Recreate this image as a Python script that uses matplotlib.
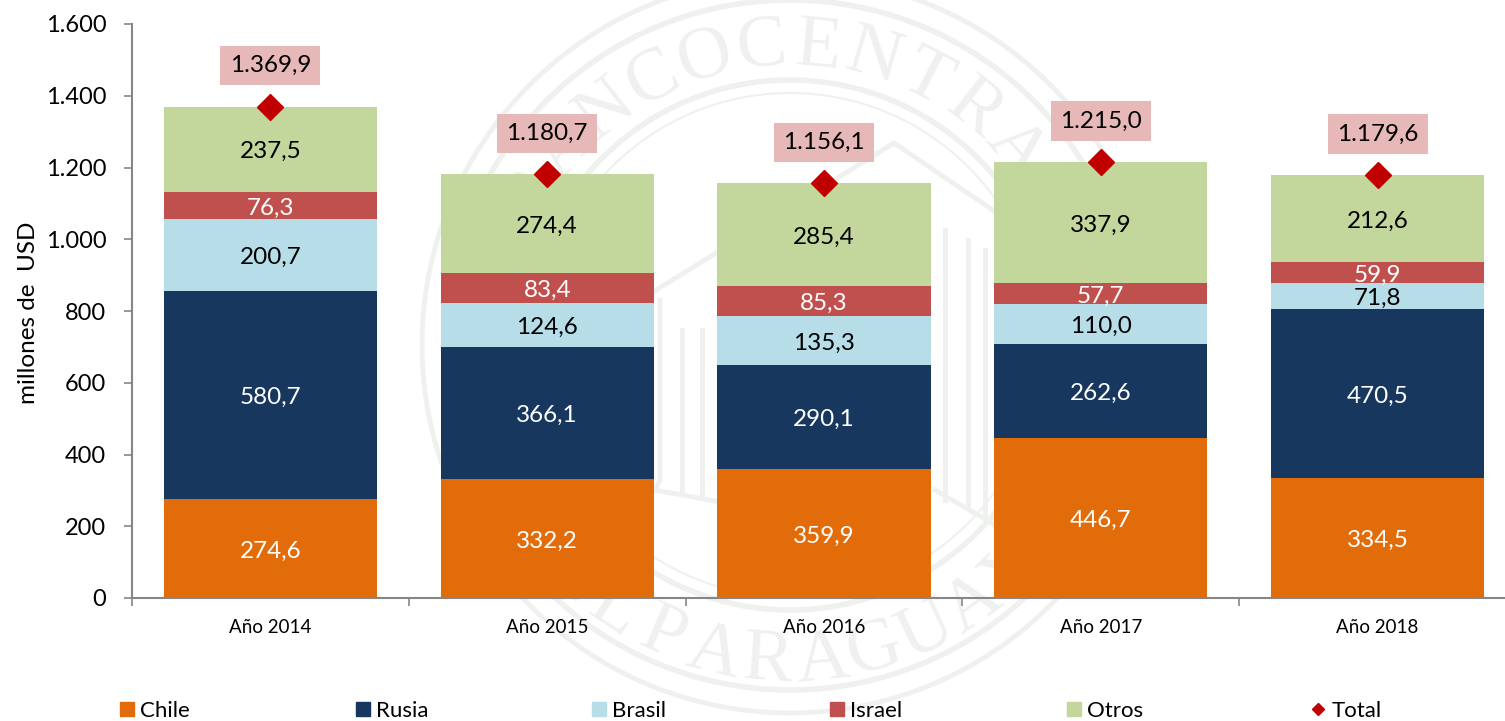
"""Exportaciones por destino, 2014-2018: stacked bars with total markers."""
import numpy as np
import matplotlib
matplotlib.use("Agg")
import matplotlib.pyplot as plt
from matplotlib.lines import Line2D
from matplotlib.patches import Circle

W, H = 1505, 721

YEARS  = ["Año 2014", "Año 2015", "Año 2016", "Año 2017", "Año 2018"]
CHILE  = [274.6, 332.2, 359.9, 446.7, 334.5]
RUSIA  = [580.7, 366.1, 290.1, 262.6, 470.5]
BRASIL = [200.7, 124.6, 135.3, 110.0, 71.8]
ISRAEL = [76.3, 83.4, 85.3, 57.7, 59.9]
OTROS  = [237.5, 274.4, 285.4, 337.9, 212.6]
# the 2018 Otros segment is drawn up to the total, taller than its 212,6 label
OTROS_DRAWN = [237.5, 274.4, 285.4, 337.9, 242.9]
TOTAL  = [1369.9, 1180.7, 1156.1, 1215.0, 1179.6]
YTICKS = [0, 200, 400, 600, 800, 1000, 1200, 1400, 1600]

plt.rcParams["font.family"] = ["Lato", "DejaVu Sans"]

SEAL = "#eef1ee"


def es(v, dec=1):
    s = f"{v:,.{dec}f}"
    return s.replace(",", "X").replace(".", ",").replace("X", ".")


fig = plt.figure(figsize=(W / 100, H / 100), dpi=100, facecolor="white")

# watermark seal in the background, pixel coordinates
bg = fig.add_axes([0, 0, 1, 1], zorder=0)
bg.set_xlim(0, W)
bg.set_ylim(H, 0)
bg.axis("off")
cx, cy = 790, 345
for r, lw in ((368, 3.5), (345, 4), (265, 4), (252, 1.5)):
    bg.add_patch(Circle((cx, cy), r, fill=False, ec=SEAL, lw=lw))


def arc_text(text, r, a0, a1, top=True):
    for ch, a in zip(text, np.linspace(a0, a1, len(text))):
        rad = np.radians(a)
        px = cx + r * np.sin(rad)
        py = cy - r * np.cos(rad)
        rot = -a if top else 180 - a
        bg.text(px, py, ch, fontsize=54, family="Liberation Serif", color=SEAL,
                ha="center", va="center", rotation=rot)


arc_text("BANCOCENTRAL", 298, -60, 60)
arc_text("DELPARAGUAY", 318, 233, 135, top=False)

# rough outline of the building inside the seal
for xs, ys in (([640, 894, 1000], [300, 143, 215]),
               ([660, 660, 655], [300, 480, 490]),
               ([682, 682], [330, 490]),
               ([702, 702], [330, 495]),
               ([655, 720], [490, 502]),
               ([945, 945], [230, 500]),
               ([968, 968], [240, 505]),
               ([985, 985], [250, 515]),
               ([935, 995], [490, 525])):
    bg.plot(xs, ys, color=SEAL, lw=3.5)

ax = fig.add_axes([132 / W, 1 - 598 / H, (1505 - 132) / W, (598 - 24) / H], zorder=1)
ax.patch.set_alpha(0)
x = np.arange(len(YEARS))
bw = 0.77

series = [
    ("Chile", CHILE, CHILE, "#e36c0a", "white"),
    ("Rusia", RUSIA, RUSIA, "#17375e", "white"),
    ("Brasil", BRASIL, BRASIL, "#b7dde8", "black"),
    ("Israel", ISRAEL, ISRAEL, "#c0504d", "white"),
    ("Otros", OTROS_DRAWN, OTROS, "#c3d69b", "black"),
]
bottom = np.zeros(len(YEARS))
for name, drawn, shown, color, tcolor in series:
    drawn = np.array(drawn)
    ax.bar(x, drawn, bw, bottom=bottom, color=color, zorder=2)
    for xi, b, d, v in zip(x, bottom, drawn, shown):
        ax.annotate(es(v), (xi, b + d / 2), xytext=(0, -1.8), textcoords="offset points",
                    ha="center", va="center", fontsize=17.5, color=tcolor, zorder=3)
    bottom += drawn

ax.plot(x, TOTAL, ls="none", marker="D", ms=13.5, color="#c00000", zorder=4)
for xi, v in zip(x, TOTAL):
    ax.annotate(es(v), (xi, v), xytext=(0, 29.5), textcoords="offset points", ha="center",
                va="center", fontsize=17.5, color="black", zorder=5,
                bbox=dict(boxstyle="square,pad=0.38", fc="#e6b9b8", ec="none"))

ax.set_xlim(-0.5, 4.46)
ax.set_ylim(0, 1600)
ax.set_yticks(YTICKS)
ax.set_yticklabels([es(t, 0) for t in YTICKS], fontsize=17)
ax.set_xticks(x)
ax.set_xticklabels(YEARS, fontsize=13.5)
ax.tick_params(axis="x", length=0, pad=15)
ax.tick_params(axis="y", length=5.5, width=1.2, color="#868686", pad=13)
ax.set_xticks(np.arange(-0.5, 4.5), minor=True)
ax.tick_params(axis="x", which="minor", length=5.5, width=1.2, color="#868686")
ax.set_ylabel("millones de  USD", fontsize=17.5)
ax.yaxis.set_label_coords(-0.0675, 0.497)
for s in ("top", "right"):
    ax.spines[s].set_visible(False)
for s in ("left", "bottom"):
    ax.spines[s].set_color("#868686")
    ax.spines[s].set_linewidth(1.5)

# one legend per entry so the entries keep an even pitch
entries = [
    ("Chile", 120, Line2D([], [], ls="none", marker="s", ms=10, color="#e36c0a")),
    ("Rusia", 356, Line2D([], [], ls="none", marker="s", ms=10, color="#17375e")),
    ("Brasil", 592, Line2D([], [], ls="none", marker="s", ms=10, color="#b7dde8")),
    ("Israel", 830, Line2D([], [], ls="none", marker="s", ms=10, color="#c0504d")),
    ("Otros", 1067, Line2D([], [], ls="none", marker="s", ms=10, color="#c3d69b")),
    ("Total", 1311, Line2D([], [], ls="none", marker="D", ms=6.5, color="#c00000")),
]
for name, px, handle in entries:
    fig.legend([handle], [name], loc="center left", bbox_to_anchor=(px / W, 1 - 711 / H),
               frameon=False, fontsize=16, handlelength=0.62, handletextpad=0.3,
               borderpad=0, borderaxespad=0)

fig.savefig("out.png", dpi=100, facecolor="white")
